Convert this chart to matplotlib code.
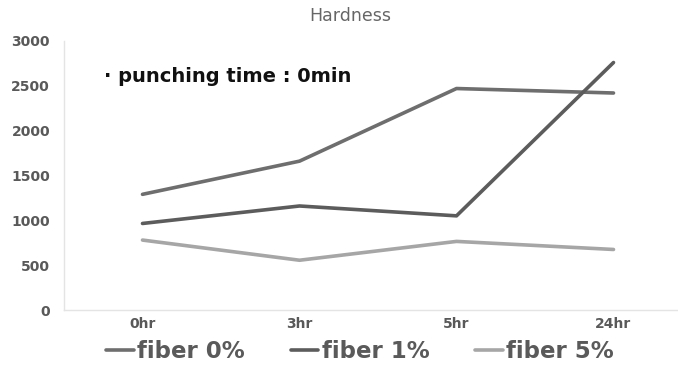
import matplotlib
matplotlib.use("Agg")
import matplotlib.pyplot as plt

# Hardness over storage time for three fiber contents
times = ["0hr", "3hr", "5hr", "24hr"]
fiber_0 = [1290, 1660, 2470, 2420]
fiber_1 = [965, 1160, 1050, 2760]
fiber_5 = [780, 555, 765, 675]
series_names = ["fiber 0%", "fiber 1%", "fiber 5%"]
y_ticks = [0, 500, 1000, 1500, 2000, 2500, 3000]

plt.rcParams["font.family"] = ["DejaVu Sans"]

W, H = 678, 368
fig = plt.figure(figsize=(W / 100, H / 100), dpi=100)
ax = fig.add_axes([64 / W, 1 - 310 / H, 628 / W, (310 - 41) / H])

x = list(range(len(times)))
colors = ["#6e6e6e", "#5c5c5c", "#a6a6a6"]
lines = []
for vals, c, name in zip([fiber_0, fiber_1, fiber_5], colors, series_names):
    (ln,) = ax.plot(x, vals, color=c, lw=2.6, solid_capstyle="round", label=name)
    lines.append(ln)

ax.set_xlim(-0.5, len(times) - 0.5)
ax.set_ylim(0, 3000)
ax.set_xticks(x)
ax.set_xticklabels(times)
ax.set_yticks(y_ticks)
ax.tick_params(axis="both", length=0, labelsize=10, labelcolor="#595959")
ax.tick_params(axis="x", pad=5)
ax.tick_params(axis="y", pad=10)
for lab in ax.get_xticklabels() + ax.get_yticklabels():
    lab.set_fontweight("bold")
for s in ["top", "right"]:
    ax.spines[s].set_visible(False)
for s in ["left", "bottom"]:
    ax.spines[s].set_color("#e4e4e4")
    ax.spines[s].set_linewidth(1.0)

fig.text(350 / W, 1 - 16 / H, "Hardness", ha="center", va="center",
         fontsize=12.5, color="#666666")
fig.text(104 / W, 1 - 76 / H, "· punching time : 0min", ha="left", va="center",
         fontsize=14, fontweight="bold", color="#111111")

fig.legend(handles=lines, labels=series_names, loc="center",
           bbox_to_anchor=(360 / W, 1 - 352 / H), ncol=3, frameon=False,
           prop={"size": 16.5, "weight": "bold"}, handlelength=1.2,
           handletextpad=0.15, columnspacing=2.0, labelcolor="#5a5a5a")

fig.savefig("out.png", dpi=100)
